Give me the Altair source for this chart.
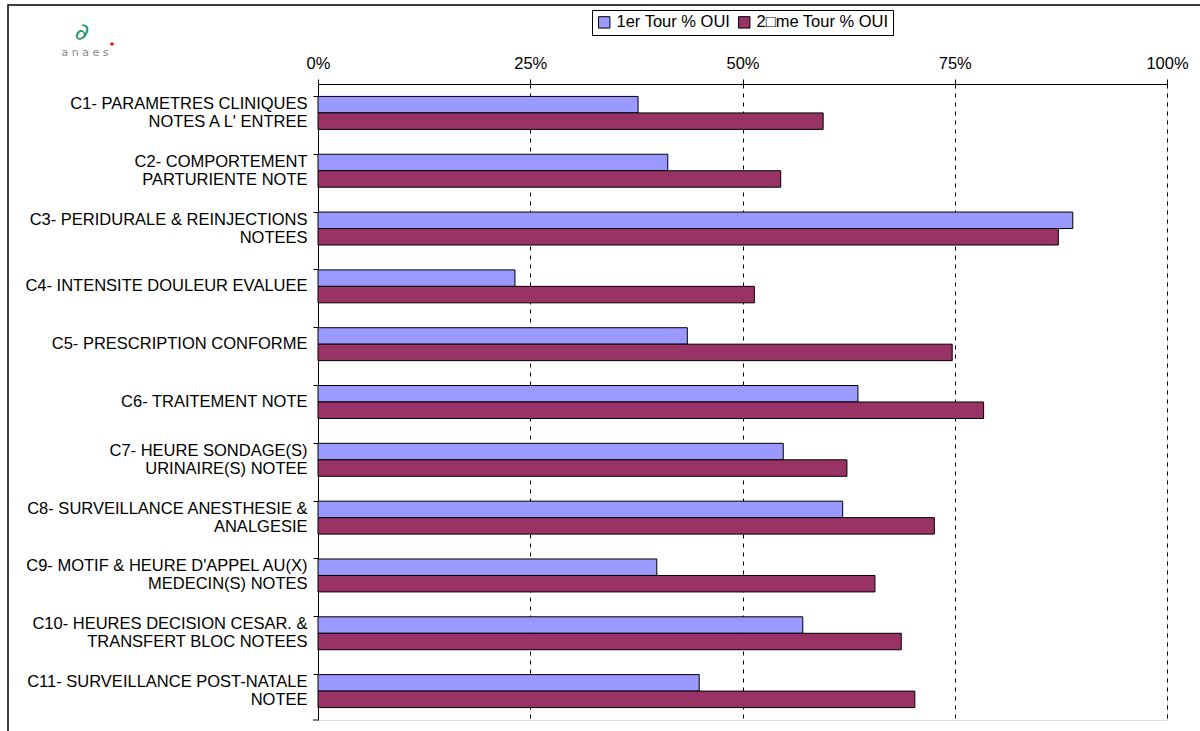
import altair as alt
import pandas as pd

categories = [
    "C1- PARAMETRES CLINIQUES|NOTES A L' ENTREE",
    "C2- COMPORTEMENT|PARTURIENTE NOTE",
    "C3- PERIDURALE & REINJECTIONS|NOTEES",
    "C4- INTENSITE DOULEUR EVALUEE",
    "C5- PRESCRIPTION CONFORME",
    "C6- TRAITEMENT NOTE",
    "C7- HEURE SONDAGE(S)|URINAIRE(S) NOTEE",
    "C8- SURVEILLANCE ANESTHESIE &|ANALGESIE",
    "C9- MOTIF & HEURE D'APPEL AU(X)|MEDECIN(S) NOTES",
    "C10- HEURES DECISION CESAR. &|TRANSFERT BLOC NOTEES",
    "C11- SURVEILLANCE POST-NATALE|NOTEE",
]
series = ["1er Tour % OUI", "2\u25a1me Tour % OUI"]
tour1 = [0.377, 0.412, 0.889, 0.232, 0.435, 0.636, 0.548, 0.618, 0.399, 0.571, 0.449]
tour2 = [0.595, 0.545, 0.872, 0.514, 0.747, 0.784, 0.623, 0.726, 0.656, 0.687, 0.703]
ticks = [0, 0.25, 0.5, 0.75, 1.0]
colors = ["#9999FF", "#993366"]

rows = []
for c, a, b in zip(categories, tour1, tour2):
    rows.append({"cat": c, "serie": series[0], "val": a})
    rows.append({"cat": c, "serie": series[1], "val": b})
df = pd.DataFrame(rows)

W, H = 849, 636
FS = 16.5

bars = alt.Chart(df).mark_bar(stroke="black", strokeWidth=1).encode(
    x=alt.X("val:Q", scale=alt.Scale(domain=[0, 1], nice=False),
            axis=alt.Axis(orient="top", values=ticks, format=".0%", title=None,
                          grid=True, gridDash=[4, 5], gridColor="black", gridWidth=1,
                          domainColor="black", tickColor="black", tickSize=5,
                          labelFontSize=FS, labelColor="black", labelPadding=8,
                          labelFlush=False, labelFont="Liberation Sans")),
    y=alt.Y("cat:N", sort=categories,
            scale=alt.Scale(paddingInner=0.43, paddingOuter=0.215),
            axis=alt.Axis(title=None, labelExpr="split(datum.label, '|')",
                          labelFontSize=FS, labelColor="black", labelLineHeight=18,
                          labelFont="Liberation Sans", labelPadding=6,
                          labelBaseline={"condition": {"test": "indexof(datum.value, '|') >= 0",
                                                       "value": "line-bottom"},
                                         "value": "middle"},
                          domainColor="black", tickColor="black", tickSize=5,
                          bandPosition=0, labelLimit=400)),
    yOffset=alt.YOffset("serie:N", sort=series),
    color=alt.Color("serie:N", sort=series,
                    scale=alt.Scale(domain=series, range=colors),
                    legend=alt.Legend(orient="none", legendX=274, legendY=-74,
                                      direction="horizontal", title=None,
                                      strokeColor="black", padding=4,
                                      symbolType="square", symbolSize=130,
                                      symbolStrokeColor="black", symbolStrokeWidth=1,
                                      labelFontSize=FS, labelFont="Liberation Sans",
                                      labelColor="black", columnPadding=5,
                                      labelOffset=4, symbolOffset=0)),
)

grid0 = alt.Chart(pd.DataFrame({"v": [0]})).mark_rule(color="black", strokeWidth=1).encode(
    x=alt.value(0), y=alt.value(H), y2=alt.value(H), x2=alt.value(-5)
)

frame = alt.Chart(pd.DataFrame({"v": [0]})).mark_rect(
    fill=None, stroke="black", strokeWidth=1.5
).encode(x=alt.value(-310), x2=alt.value(900), y=alt.value(-79), y2=alt.value(700))

logo_text = alt.Chart(pd.DataFrame({"t": ["a n a e s"]})).mark_text(
    font="DejaVu Sans", fontSize=11, color="#888888", align="center"
).encode(text="t:N", x=alt.value(-233), y=alt.value(-31))

logo_sym = alt.Chart(pd.DataFrame({"t": ["\u2202"]})).mark_text(
    font="DejaVu Sans", fontSize=24, color="#1a9a6c", align="center", angle=20
).encode(text="t:N", x=alt.value(-236), y=alt.value(-51))

logo_dot = alt.Chart(pd.DataFrame({"t": [0]})).mark_circle(
    color="red", size=12, opacity=1
).encode(x=alt.value(-206), y=alt.value(-40))

chart = alt.layer(frame, bars, grid0, logo_text, logo_sym, logo_dot).properties(
    width=W, height=H,
    padding={"left": 318, "top": 84, "right": 33, "bottom": 11},
    autosize="none",
).configure_view(stroke=None).configure(background="white")

chart.save("out.html", embed_options={"renderer": "svg", "actions": False})
